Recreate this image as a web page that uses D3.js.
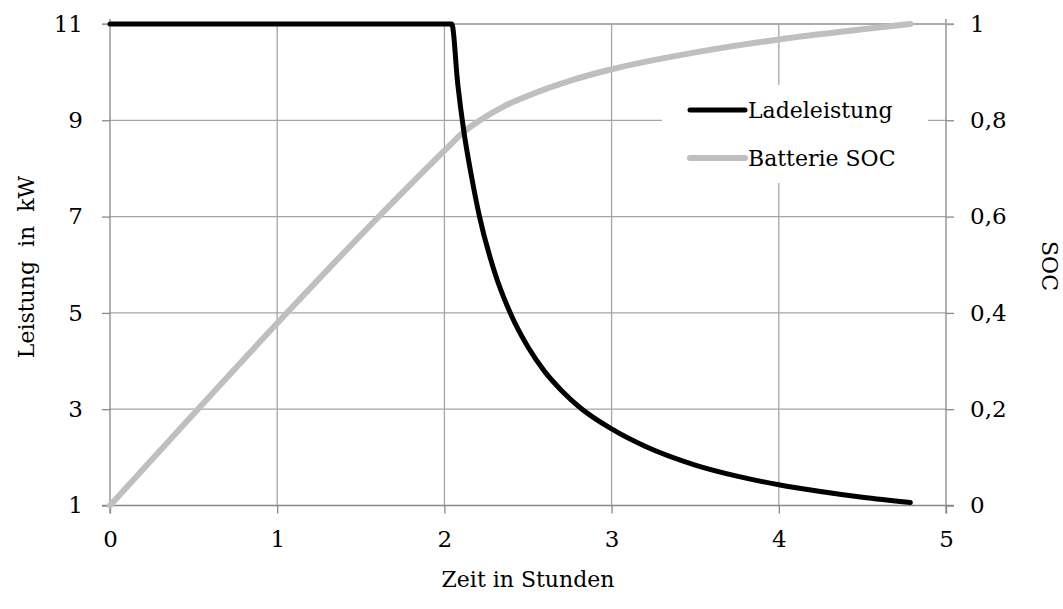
<!DOCTYPE html>
<html>
<head>
<meta charset="utf-8">
<script src="https://cdn.jsdelivr.net/npm/d3@7"></script>
<style>
  body { margin: 0; background: #fff; }
  text { font-family: "DejaVu Serif", serif; fill: #000; }
</style>
</head>
<body>
<svg id="chart" width="1063" height="609"></svg>
<script>
// Ladeleistung (kW) over time (h)
const powerTime = [0, 2.044, 2.08, 2.115, 2.164, 2.21, 2.3, 2.4, 2.5, 2.6, 2.7, 2.812, 3.0, 3.2, 3.5, 3.75, 4.0, 4.25, 4.5, 4.787];
const powerVals = [11, 11, 9.75, 8.8, 7.8, 7.0, 5.85, 4.95, 4.29, 3.78, 3.39, 3.03, 2.59, 2.23, 1.84, 1.61, 1.43, 1.29, 1.17, 1.06];

// Batterie SOC over time (h)
const socTime = [0, 2.044, 2.1, 2.2, 2.35, 2.5, 2.75, 3.0, 3.5, 4.0, 4.5, 4.787];
const socVals = [0, 0.752, 0.771, 0.797, 0.828, 0.851, 0.882, 0.906, 0.941, 0.968, 0.989, 1.0];

const xTicks = [0, 1, 2, 3, 4, 5];
const leftTicks = [1, 3, 5, 7, 9, 11];
const rightTicks = [0, 0.2, 0.4, 0.6, 0.8, 1];
const seriesNames = ['Ladeleistung', 'Batterie SOC'];
const seriesColors = ['#000000', '#bfbfbf'];

const svg = d3.select('#chart');
const plot = {left: 110, right: 946, top: 24, bottom: 505.5};

const x = d3.scaleLinear().domain([0, 5]).range([plot.left, plot.right]);
const yL = d3.scaleLinear().domain([1, 11]).range([plot.bottom, plot.top]);
const yR = d3.scaleLinear().domain([0, 1]).range([plot.bottom, plot.top]);

const gridColor = '#a6a6a6';
const axisColor = '#888888';

// gridlines
svg.append('g').selectAll('line')
  .data(leftTicks.slice(1))
  .enter().append('line')
  .attr('x1', plot.left).attr('x2', plot.right)
  .attr('y1', d => yL(d)).attr('y2', d => yL(d))
  .attr('stroke', gridColor).attr('stroke-width', 1.3);

svg.append('g').selectAll('line')
  .data(xTicks.slice(1, -1))
  .enter().append('line')
  .attr('x1', d => x(d)).attr('x2', d => x(d))
  .attr('y1', plot.top).attr('y2', plot.bottom)
  .attr('stroke', gridColor).attr('stroke-width', 1.3);

// axes
function styleAxis(g) {
  g.select('.domain').remove();
  g.selectAll('.tick line').attr('stroke', axisColor).attr('stroke-width', 1.3);
  g.selectAll('.tick text').attr('font-size', 23).attr('fill', '#000')
    .attr('font-family', '"DejaVu Serif", serif');
}

const fmtComma = d => d3.format('.1~f')(d).replace('.', ',');

svg.append('g')
  .attr('transform', `translate(${plot.left},0)`)
  .call(d3.axisLeft(yL).tickValues(leftTicks).tickSize(8).tickPadding(19).tickFormat(d3.format('d')))
  .call(styleAxis);

svg.append('g')
  .attr('transform', `translate(${plot.right},0)`)
  .call(d3.axisRight(yR).tickValues(rightTicks).tickSize(8).tickPadding(16).tickFormat(fmtComma))
  .call(styleAxis);

svg.append('g')
  .attr('transform', `translate(0,${plot.bottom})`)
  .call(d3.axisBottom(x).tickValues(xTicks).tickSize(8).tickPadding(17).tickFormat(d3.format('d')))
  .call(styleAxis);

// axis lines
svg.append('line').attr('x1', plot.left).attr('x2', plot.left).attr('y1', plot.top - 5).attr('y2', plot.bottom + 8)
  .attr('stroke', axisColor).attr('stroke-width', 1.3);
svg.append('line').attr('x1', plot.right).attr('x2', plot.right).attr('y1', plot.top - 5).attr('y2', plot.bottom + 8)
  .attr('stroke', axisColor).attr('stroke-width', 1.3);
svg.append('line').attr('x1', plot.left - 8).attr('x2', plot.right + 8).attr('y1', plot.bottom).attr('y2', plot.bottom)
  .attr('stroke', axisColor).attr('stroke-width', 1.3);
svg.append('line').attr('x1', plot.left - 8).attr('x2', plot.right + 8).attr('y1', plot.top).attr('y2', plot.top)
  .attr('stroke', gridColor).attr('stroke-width', 1.3);

// series
const socData = socTime.map((t, i) => ({t: t, v: socVals[i]}));
const powerData = powerTime.map((t, i) => ({t: t, v: powerVals[i]}));

svg.append('path')
  .datum(socData)
  .attr('fill', 'none')
  .attr('stroke', seriesColors[1])
  .attr('stroke-width', 6)
  .attr('stroke-linecap', 'round')
  .attr('d', d3.line().x(d => x(d.t)).y(d => yR(d.v)).curve(d3.curveMonotoneX));

svg.append('path')
  .datum(powerData)
  .attr('fill', 'none')
  .attr('stroke', seriesColors[0])
  .attr('stroke-width', 5)
  .attr('stroke-linecap', 'round')
  .attr('stroke-linejoin', 'round')
  .attr('d', d3.line().x(d => x(d.t)).y(d => yL(d.v)).curve(d3.curveMonotoneX));

// legend
const legend = svg.append('g');
legend.append('rect')
  .attr('x', 662).attr('y', 85).attr('width', 266).attr('height', 98)
  .attr('fill', '#fff');
seriesNames.forEach((name, i) => {
  const ly = 110 + i * 48;
  legend.append('line')
    .attr('x1', 690).attr('x2', 745).attr('y1', ly).attr('y2', ly)
    .attr('stroke', seriesColors[i]).attr('stroke-width', i ? 6 : 5)
    .attr('stroke-linecap', 'round');
  legend.append('text')
    .attr('x', 748).attr('y', ly + 8)
    .attr('font-size', 22)
    .text(name);
});

// axis titles
svg.append('text')
  .attr('transform', 'translate(34,267) rotate(-90)')
  .attr('text-anchor', 'middle')
  .attr('font-size', 22)
  .style('white-space', 'pre')
  .text('Leistung  in  kW');

svg.append('text')
  .attr('transform', 'translate(1042,266) rotate(90)')
  .attr('text-anchor', 'middle')
  .attr('font-size', 22)
  .text('SOC');

svg.append('text')
  .attr('x', 528).attr('y', 587)
  .attr('text-anchor', 'middle')
  .attr('font-size', 22)
  .text('Zeit in Stunden');
</script>
</body>
</html>
